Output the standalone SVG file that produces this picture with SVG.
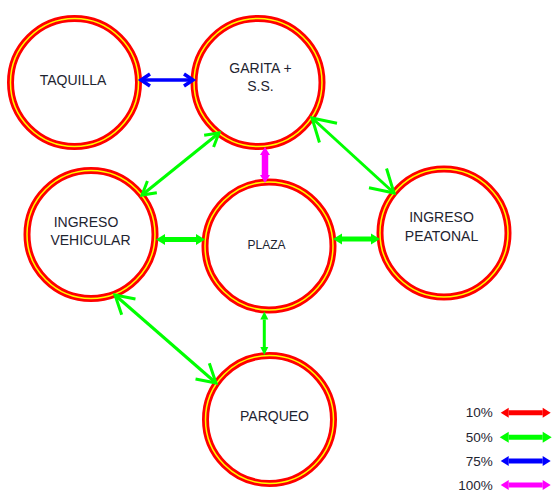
<svg xmlns="http://www.w3.org/2000/svg" width="556" height="497" viewBox="0 0 556 497">
<style>
.ring{fill:#fff;stroke:#ff0000;stroke-width:7}
.ringin{fill:none;stroke:#ffff00;stroke-width:1.5}
.lbl{font-family:"Liberation Sans",Arial,sans-serif;font-size:14px;fill:#1e2430;text-anchor:middle}
.leg{font-family:"Liberation Sans",Arial,sans-serif;font-size:13.5px;fill:#1e2430;text-anchor:end}
.g{stroke:#00ff00;fill:none}
</style>
<defs>
<marker id="chevL" markerUnits="userSpaceOnUse" orient="auto-start-reverse" overflow="visible" markerWidth="1" markerHeight="1" refX="0" refY="0"><path d="M-22,-13 L0,0 L-22,13" fill="none" stroke="#00ff00" stroke-width="3"/></marker>
<marker id="chevM" markerUnits="userSpaceOnUse" orient="auto-start-reverse" overflow="visible" markerWidth="1" markerHeight="1" refX="0" refY="0"><path d="M-18,-10.5 L0,0 L-18,10.5" fill="none" stroke="#00ff00" stroke-width="3"/></marker>
<marker id="chevS" markerUnits="userSpaceOnUse" orient="auto-start-reverse" overflow="visible" markerWidth="1" markerHeight="1" refX="0" refY="0"><path d="M-13,-7.5 L0,0 L-13,7.5" fill="none" stroke="#00ff00" stroke-width="3"/></marker>
<marker id="chevB" markerUnits="userSpaceOnUse" orient="auto-start-reverse" overflow="visible" markerWidth="1" markerHeight="1" refX="0" refY="0"><path d="M-9,-6 L0,0 L-9,6" fill="none" stroke="#0000ff" stroke-width="3.5"/></marker>
<marker id="triG" markerUnits="userSpaceOnUse" orient="auto-start-reverse" overflow="visible" markerWidth="1" markerHeight="1" refX="0" refY="0"><path d="M0,-5.5 L9,0 L0,5.5 Z" fill="#00ff00"/></marker>
<marker id="triGs" markerUnits="userSpaceOnUse" orient="auto-start-reverse" overflow="visible" markerWidth="1" markerHeight="1" refX="0" refY="0"><path d="M0,-4 L8,0 L0,4 Z" fill="#00ff00"/></marker>
<marker id="triR" markerUnits="userSpaceOnUse" orient="auto-start-reverse" overflow="visible" markerWidth="1" markerHeight="1" refX="0" refY="0"><path d="M0,-5 L8,0 L0,5 Z" fill="#ff0000"/></marker>
<marker id="triB" markerUnits="userSpaceOnUse" orient="auto-start-reverse" overflow="visible" markerWidth="1" markerHeight="1" refX="0" refY="0"><path d="M0,-5 L8,0 L0,5 Z" fill="#0000ff"/></marker>
<marker id="triM" markerUnits="userSpaceOnUse" orient="auto-start-reverse" overflow="visible" markerWidth="1" markerHeight="1" refX="0" refY="0"><path d="M0,-5 L8,0 L0,5 Z" fill="#ff00ff"/></marker>
</defs>
<rect width="556" height="497" fill="#fff"/>

<g id="taquilla"><circle class="ring" cx="74.5" cy="82.5" r="64"/><circle class="ringin" cx="74.5" cy="82.5" r="64"/><text class="lbl" x="73" y="85">TAQUILLA</text></g>
<g id="garita"><circle class="ring" cx="258" cy="82.5" r="64"/><circle class="ringin" cx="258" cy="82.5" r="64"/><text class="lbl" x="260.5" y="73.3">GARITA +</text><text class="lbl" x="260.5" y="91">S.S.</text></g>
<g id="ingreso-vehicular"><circle class="ring" cx="91" cy="234.5" r="64"/><circle class="ringin" cx="91" cy="234.5" r="64"/><text class="lbl" x="86" y="226.7">INGRESO</text><text class="lbl" x="90.5" y="245">VEHICULAR</text></g>
<g id="plaza"><circle class="ring" cx="269" cy="246" r="64"/><circle class="ringin" cx="269" cy="246" r="64"/><text class="lbl" x="266.5" y="249" style="font-size:12px">PLAZA</text></g>
<g id="ingreso-peatonal"><circle class="ring" cx="444" cy="233" r="64"/><circle class="ringin" cx="444" cy="233" r="64"/><text class="lbl" x="441.5" y="222">INGRESO</text><text class="lbl" x="441.5" y="240.7">PEATONAL</text></g>
<g id="parqueo"><circle class="ring" cx="269.5" cy="419.5" r="64"/><circle class="ringin" cx="269.5" cy="419.5" r="64"/><text class="lbl" x="274.5" y="421">PARQUEO</text></g>

<g id="connectors">
<line x1="141" y1="80" x2="193" y2="80" stroke="#0000ff" stroke-width="3.5" marker-start="url(#chevB)" marker-end="url(#chevB)"/>
<line x1="265" y1="155" x2="265" y2="175" stroke="#ff00ff" stroke-width="6.5" marker-start="url(#triM)" marker-end="url(#triM)"/>
<line class="g" x1="312" y1="118" x2="394" y2="193" stroke-width="3" marker-start="url(#chevL)" marker-end="url(#chevL)"/>
<line class="g" x1="219" y1="133" x2="142" y2="195" stroke-width="3" marker-start="url(#chevS)" marker-end="url(#chevS)"/>
<line class="g" x1="165" y1="239.5" x2="196" y2="239.5" stroke-width="5" marker-start="url(#triG)" marker-end="url(#triG)"/>
<line class="g" x1="342" y1="239" x2="371" y2="239" stroke-width="5" marker-start="url(#triG)" marker-end="url(#triG)"/>
<line class="g" x1="264.3" y1="319.5" x2="264.3" y2="347" stroke-width="3" marker-start="url(#triGs)" marker-end="url(#triGs)"/>
<line class="g" x1="115" y1="295" x2="216" y2="383" stroke-width="3" marker-start="url(#chevM)" marker-end="url(#chevM)"/>
</g>

<g id="legend">
<text class="leg" x="492.7" y="417">10%</text>
<line x1="508.7" y1="412.7" x2="542.7" y2="412.7" stroke="#ff0000" stroke-width="5" marker-start="url(#triR)" marker-end="url(#triR)"/>
<text class="leg" x="492.7" y="441.7">50%</text>
<line x1="508.7" y1="437.3" x2="542.7" y2="437.3" stroke="#00ff00" stroke-width="5" marker-start="url(#triG)" marker-end="url(#triG)"/>
<text class="leg" x="492.7" y="466">75%</text>
<line x1="508.7" y1="461" x2="542.7" y2="461" stroke="#0000ff" stroke-width="5" marker-start="url(#triB)" marker-end="url(#triB)"/>
<text class="leg" x="492.7" y="490">100%</text>
<line x1="508.7" y1="485" x2="542.7" y2="485" stroke="#ff00ff" stroke-width="5" marker-start="url(#triM)" marker-end="url(#triM)"/>
</g>
</svg>
